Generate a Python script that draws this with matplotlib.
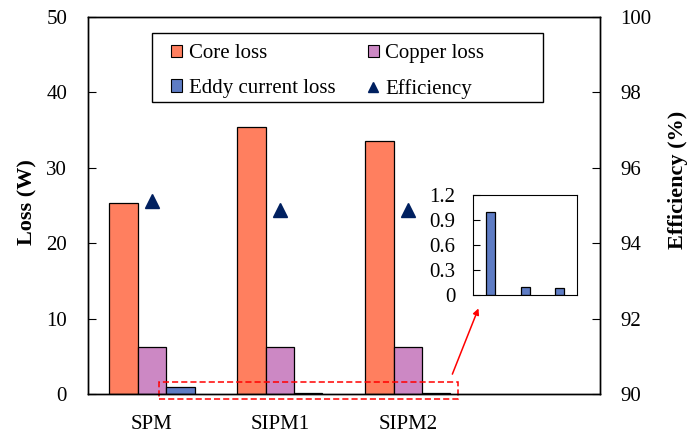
import numpy as np
import matplotlib.pyplot as plt
from matplotlib.patches import Rectangle
from matplotlib.lines import Line2D

plt.rcParams['font.family'] = ['Liberation Serif', 'DejaVu Serif']
plt.rcParams['font.size'] = 15

# Loss breakdown per machine
machines = ['SPM', 'SIPM1', 'SIPM2']
core_loss = [25.3, 35.4, 33.5]
copper_loss = [6.2, 6.2, 6.2]
eddy_loss = [1.0, 0.1, 0.09]
efficiency = [95.12, 94.88, 94.88]

inset_ticks = [0, 0.3, 0.6, 0.9, 1.2]

c_core = '#FF7F5F'
c_copper = '#CC88C4'
c_eddy = '#5E7CC4'
c_eff = '#002060'

fig = plt.figure(figsize=(6.87, 4.34), dpi=100)
ax = fig.add_axes([0.128, 0.092, 0.745, 0.869])
ax2 = ax.twinx()

x = np.arange(len(machines))
w = 0.222
ax.bar(x - w, core_loss, w, color=c_core, edgecolor='black', linewidth=0.9, label='Core loss')
ax.bar(x, copper_loss, w, color=c_copper, edgecolor='black', linewidth=0.9, label='Copper loss')
ax.bar(x + w, eddy_loss, w, color=c_eddy, edgecolor='black', linewidth=0.9, label='Eddy current loss')
ax2.plot(x, efficiency, linestyle='none', marker='^', markersize=10, color=c_eff, label='Efficiency')

ax.set_xlim(-0.5, 3.5)
ax.set_ylim(0, 50)
ax.set_yticks([0, 10, 20, 30, 40, 50])
ax.set_xticks(x)
ax.set_xticklabels(machines)
ax.tick_params(axis='x', length=0, pad=15)
ax.tick_params(axis='y', direction='in', length=6, pad=15)
ax.set_ylabel('Loss (W)', fontweight='bold', fontsize=16)
ax.yaxis.set_label_coords(-0.099, 0.509)

ax2.set_ylim(90, 100)
ax2.set_yticks([90, 92, 94, 96, 98, 100])
ax2.tick_params(axis='y', direction='in', length=6, pad=15)
ax2.set_ylabel('Efficiency (%)', fontweight='bold', fontsize=16)
ax2.yaxis.set_label_coords(1.133, 0.568)

for a in (ax, ax2):
    for s in a.spines.values():
        s.set_linewidth(1.0)

# Legend: two columns of square patches plus the triangle marker,
# inside a wider hand-drawn frame
handles = [
    Rectangle((0, 0), 1, 1, facecolor=c_core, edgecolor='black', linewidth=0.8),
    Rectangle((0, 0), 1, 1, facecolor=c_eddy, edgecolor='black', linewidth=0.8),
    Rectangle((0, 0), 1, 1, facecolor=c_copper, edgecolor='black', linewidth=0.8),
    Line2D([], [], linestyle='none', marker='^', markersize=7, color=c_eff),
]
labels = ['Core loss', 'Eddy current loss', 'Copper loss', 'Efficiency']
ax.legend(handles, labels, ncol=2, loc='upper left', bbox_to_anchor=(0.142, 0.955),
          frameon=False, handlelength=0.55, handleheight=0.55, handletextpad=0.3,
          columnspacing=1.55, labelspacing=0.75, borderpad=0)
ax.add_patch(Rectangle((0.126, 0.774), 0.763, 0.183, transform=ax.transAxes, fill=False,
                       edgecolor='black', linewidth=1.0, zorder=5))

# Dashed box around the eddy current bars and an arrow to the zoom-in
ax.add_patch(Rectangle((0.057, -0.66), 2.336, 2.21, fill=False, edgecolor='red',
                       linestyle=(0, (4, 2)), linewidth=1.1, clip_on=False))
ax.annotate('', xy=(2.56, 11.7), xytext=(2.34, 2.3),
            arrowprops=dict(arrowstyle='-|>', color='red', lw=1.1, mutation_scale=9))

# Inset: eddy current loss only
axin = fig.add_axes([0.689, 0.320, 0.151, 0.230])
axin.bar(x, eddy_loss, 0.26, color=c_eddy, edgecolor='black', linewidth=0.9)
axin.set_xlim(-0.5, 2.5)
axin.set_ylim(0, 1.2)
axin.set_yticks(inset_ticks)
axin.set_yticklabels(['0', '0.3', '0.6', '0.9', '1.2'])
axin.set_xticks([])
axin.tick_params(axis='y', direction='in', length=5, pad=13)

fig.savefig('out.png', dpi=100)
